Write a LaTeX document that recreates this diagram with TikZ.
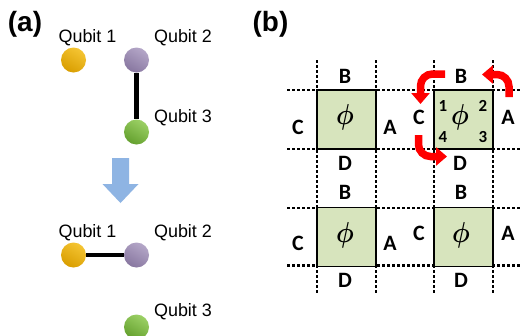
\documentclass[tikz,border=0pt]{standalone}
\usepackage{graphicx}
\usepackage{fontspec}
\setmainfont{Liberation Sans}
\newfontfamily\carlito{Carlito}
\usetikzlibrary{arrows.meta}
\definecolor{qyel}{HTML}{F2B600}
\definecolor{qyeld}{HTML}{D99E00}
\definecolor{qpur}{HTML}{A797BE}
\definecolor{qpurd}{HTML}{8877A0}
\definecolor{qgrn}{HTML}{8AC84A}
\definecolor{qgrnd}{HTML}{64A02E}
\definecolor{cellfill}{HTML}{D7E4BD}
\definecolor{bluearr}{HTML}{8EB4E3}
\definecolor{redarr}{HTML}{FF0000}
\newcommand{\bigphi}{\scalebox{2.5}[2.9]{\boldmath$\phi$}}
\tikzset{
  x=1bp, y=-1bp,
  qubit/.style={circle, minimum size=25bp, inner sep=0pt},
  qyellow/.style={qubit, top color=qyel!80!white, bottom color=qyeld, shading angle=-30},
  qpurple/.style={qubit, top color=qpur!85!white, bottom color=qpurd, shading angle=-30},
  qgreen/.style={qubit, top color=qgrn!85!white, bottom color=qgrnd, shading angle=-30},
  qlabel/.style={font=\fontsize{18pt}{20pt}\selectfont, inner sep=0pt},
  panel/.style={font=\fontsize{28pt}{30pt}\selectfont\bfseries, inner sep=0pt},
  link/.style={line width=4.5bp, black},
  cell/.style={draw=black, fill=cellfill, line width=1.8bp, minimum width=59bp, minimum height=59bp, inner sep=0pt},
  phinode/.style={inner sep=0pt, font=\normalsize},
  side/.style={font=\carlito\bfseries\fontsize{22pt}{24pt}\selectfont, inner sep=0pt},
  corner/.style={font=\carlito\bfseries\fontsize{17pt}{19pt}\selectfont, inner sep=0pt},
  grid/.style={line width=2.2bp, dash pattern=on 2.5bp off 2.5bp},
  redarrow/.style={draw=redarr, line width=7.5bp, rounded corners=12bp, -{Triangle[length=11bp, width=18bp]}}
}
\begin{document}
\begin{tikzpicture}
\clip (0,0) rectangle (520,335);
\fill[white] (0,0) rectangle (520,335);

% ---------- panel (a) ----------
\node[panel] (pa) at (25,24) {(a)};

\node[qyellow] (q1) at (73.5,60) {};
\node[qpurple] (q2) at (136.5,60) {};
\node[qgreen]  (q3) at (136.5,132) {};
\draw[link] (q2) -- (q3);
\node[qlabel] (l1) at (87.5,38) {Qubit 1};
\node[qlabel] (l2) at (183,38) {Qubit 2};
\node[qlabel] (l3) at (183,117.5) {Qubit 3};

\fill[bluearr] (112,158) -- (129,158) -- (129,184) -- (138.5,184) -- (120.5,203) -- (102.5,184) -- (112,184) -- cycle;

\node[qyellow] (p1) at (73.5,255) {};
\node[qpurple] (p2) at (136.5,255) {};
\node[qgreen]  (p3) at (136.5,327) {};
\draw[link] (p1) -- (p2);
\node[qlabel] (m1) at (87.5,233) {Qubit 1};
\node[qlabel] (m2) at (183,233) {Qubit 2};
\node[qlabel] (m3) at (183,312) {Qubit 3};

% ---------- panel (b) ----------
\node[panel] (pb) at (270.5,24) {(b)};

\foreach \yy in {90,149,208,265.5}
  \draw[grid] (287,\yy) -- (520,\yy);
\foreach \xx in {317,376,434,493}
  \draw[grid] (\xx,60) -- (\xx,295);

\node[cell] (s1) at (346.5,119.5) {};
\node[cell] (s2) at (463.5,119.5) {};
\node[cell] (s3) at (346.5,237) {};
\node[cell] (s4) at (463.5,237) {};
\node[phinode] (f1) at (345,117) {\bigphi};
\node[phinode] (f2) at (460,117) {\bigphi};
\node[phinode] (f3) at (345,235.5) {\bigphi};
\node[phinode] (f4) at (461,235.5) {\bigphi};

% labels, top-left
\node[side] (b1) at (345,76) {B};
\node[side] (c1) at (298,127) {C};
\node[side] (a1) at (390,127) {A};
\node[side] (d1) at (345,163) {D};
% labels, top-right
\node[side] (b2) at (461,76) {B};
\node[side] (c2) at (419,117) {C};
\node[side] (a2) at (508,117) {A};
\node[side] (d2) at (460,163) {D};
\node[corner] (n1) at (443,106) {1};
\node[corner] (n2) at (483,106) {2};
\node[corner] (n3) at (483,137) {3};
\node[corner] (n4) at (443,137) {4};
% labels, bottom-left
\node[side] (b3) at (345,192) {B};
\node[side] (c3) at (298,243.5) {C};
\node[side] (a3) at (390,243.5) {A};
\node[side] (d3) at (345,280) {D};
% labels, bottom-right
\node[side] (b4) at (461,192) {B};
\node[side] (c4) at (419,233) {C};
\node[side] (a4) at (508,233) {A};
\node[side] (d4) at (461,280) {D};

% red arrows
\coordinate (r1s) at (445,74);
\coordinate (r1e) at (420.5,104);
\draw[redarrow] (r1s) -| (r1e);
\coordinate (r2s) at (509,97);
\coordinate (r2e) at (482,74.5);
\draw[redarrow] (r2s) |- (r2e);
\coordinate (r3s) at (418.5,135);
\coordinate (r3e) at (447,156.5);
\draw[redarrow] (r3s) |- (r3e);
\end{tikzpicture}
\end{document}
